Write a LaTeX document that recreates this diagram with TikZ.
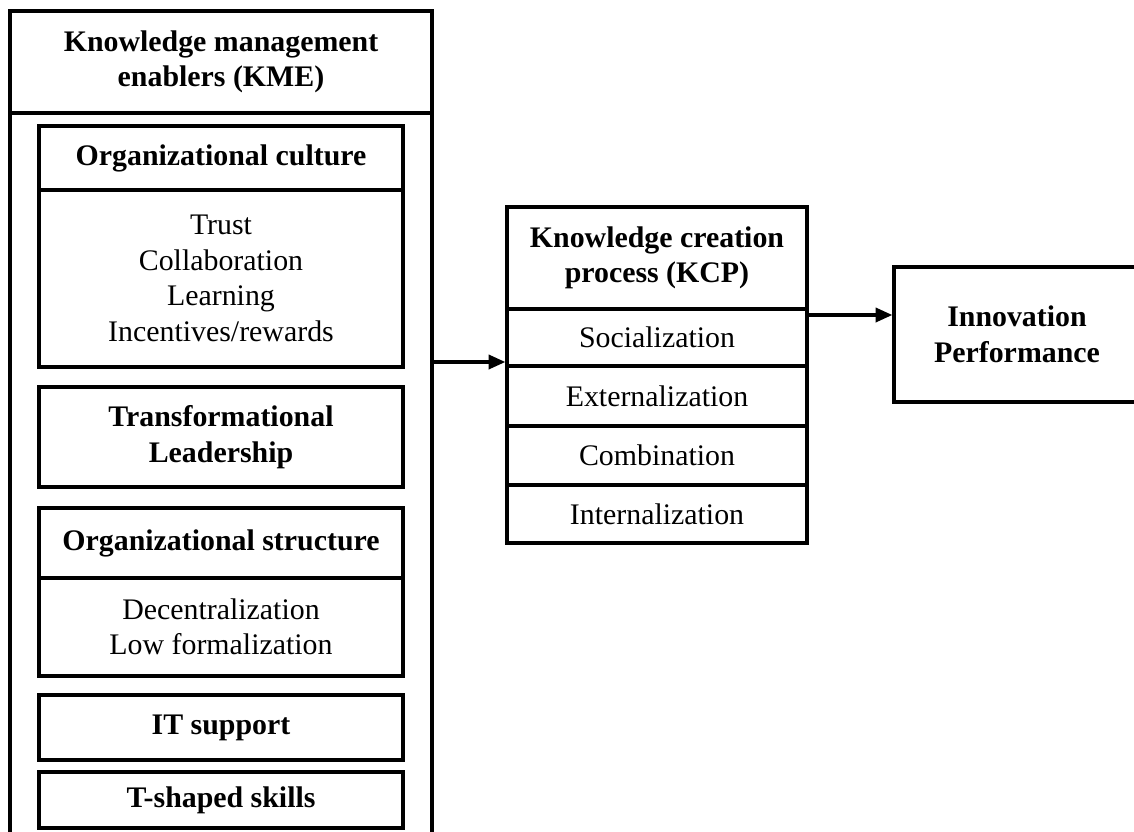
\documentclass[tikz,border=0pt]{standalone}
\usepackage{fontspec}
\setmainfont{Liberation Serif}
\usetikzlibrary{arrows.meta, positioning, calc}

\begin{document}
\begin{tikzpicture}[x=0.02cm, y=-0.02cm,
    caja/.style={rectangle, draw, line width=1.9pt, align=center, inner sep=0pt, font=\fontsize{17}{20.2}\selectfont},
    titulo/.style={caja, font=\fontsize{17}{20.2}\selectfont\bfseries},
    flecha/.style={-{Triangle[length=9.5pt, width=8pt]}, line width=1.9pt}]

    \clip (0,0) rectangle (1134,832);

    % enablers column
    \node[caja, minimum width=8.44cm, minimum height=14.74cm] (kmebody) at (221,481.5) {};
    \node[titulo, minimum width=8.44cm, minimum height=2.04cm] (kme) at (221,62) {Knowledge management\\enablers (KME)};

    \node[titulo, minimum width=7.28cm, minimum height=1.28cm] (cultura) at (221,158) {Organizational culture};
    \node[caja, minimum width=7.28cm, minimum height=3.54cm] (culturaitems) at (221,278.5) {Trust\\Collaboration\\Learning\\Incentives/rewards};
    \node[titulo, minimum width=7.28cm, minimum height=2cm] (lider) at (221,437) {Transformational\\Leadership};
    \node[titulo, minimum width=7.28cm, minimum height=1.4cm] (estructura) at (221,543) {Organizational structure};
    \node[caja, minimum width=7.28cm, minimum height=1.96cm] (estructuraitems) at (221,627) {Decentralization\\Low formalization};
    \node[titulo, minimum width=7.28cm, minimum height=1.3cm] (it) at (221,727.5) {IT support};
    \node[titulo, minimum width=7.28cm, minimum height=1.12cm] (tskills) at (221,800) {T-shaped skills};

    % creation process
    \node[titulo, minimum width=6cm, minimum height=2.04cm] (kcp) at (657,258) {Knowledge creation\\process (KCP)};
    \node[caja, minimum width=6cm, minimum height=1.14cm] (soc) at (657,337.5) {Socialization};
    \node[caja, minimum width=6cm, minimum height=1.2cm] (ext) at (657,396) {Externalization};
    \node[caja, minimum width=6cm, minimum height=1.18cm] (comb) at (657,455.5) {Combination};
    \node[caja, minimum width=6cm, minimum height=1.16cm] (int) at (657,514) {Internalization};

    \node[titulo, minimum width=4.92cm, minimum height=2.7cm] (innov) at (1017,334.5) {Innovation\\Performance};

    \coordinate (entrada) at (507,362);
    \coordinate (salida) at (807,315);
    \draw[flecha] (kmebody.east |- entrada) -- (soc.west |- entrada);
    \draw[flecha] (soc.east |- salida) -- (innov.west |- salida);
\end{tikzpicture}
\end{document}
